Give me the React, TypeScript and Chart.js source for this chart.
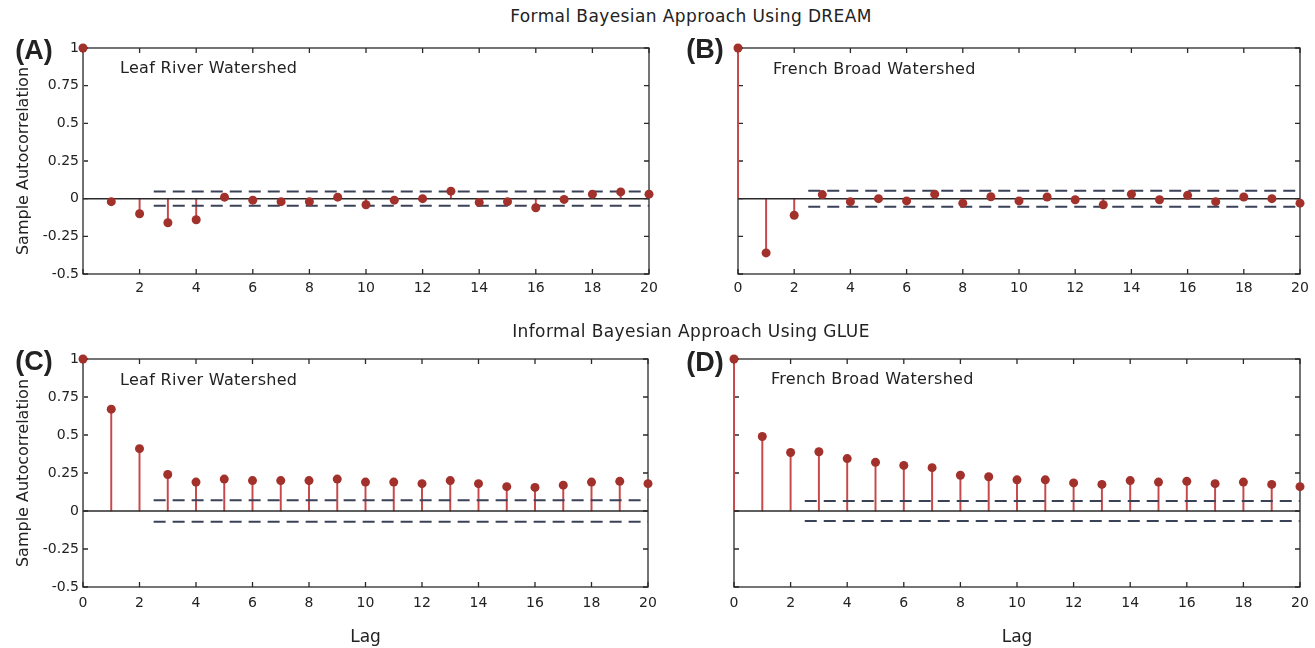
import React, { useEffect, useRef } from "react";
import { Chart, registerables } from "chart.js";

Chart.register(...registerables);

// ---------- data ----------
const lags = [0, 1, 2, 3, 4, 5, 6, 7, 8, 9, 10, 11, 12, 13, 14, 15, 16, 17, 18, 19, 20];
const leafDream = [1, -0.02, -0.1, -0.16, -0.14, 0.01, -0.01, -0.02, -0.02, 0.01, -0.04, -0.01, 0.0, 0.05, -0.025, -0.02, -0.06, -0.005, 0.03, 0.045, 0.03];
const frenchDream = [1, -0.36, -0.11, 0.027, -0.02, 0.0, -0.015, 0.03, -0.03, 0.013, -0.015, 0.011, -0.007, -0.04, 0.03, -0.007, 0.022, -0.02, 0.011, 0.0, -0.03];
const leafGlue = [1, 0.67, 0.41, 0.24, 0.19, 0.21, 0.2, 0.2, 0.2, 0.21, 0.19, 0.19, 0.18, 0.2, 0.18, 0.16, 0.155, 0.17, 0.19, 0.195, 0.18];
const frenchGlue = [1, 0.49, 0.385, 0.39, 0.345, 0.32, 0.3, 0.285, 0.235, 0.225, 0.205, 0.205, 0.185, 0.175, 0.2, 0.19, 0.195, 0.18, 0.19, 0.175, 0.16];
const boundLeafDream = 0.047;
const boundFrenchDream = 0.053;
const boundLeafGlue = 0.07;
const boundFrenchGlue = 0.065;
const boundStartLag = 2.5;
const yTickValues = [-0.5, -0.25, 0, 0.25, 0.5, 0.75, 1];
const rowTitles = ["Formal Bayesian Approach Using DREAM", "Informal Bayesian Approach Using GLUE"];
const panelLetters = ["(A)", "(B)", "(C)", "(D)"];
const watershedNames = ["Leaf River Watershed", "French Broad Watershed", "Leaf River Watershed", "French Broad Watershed"];
const yAxisTitle = "Sample Autocorrelation";
const xAxisTitle = "Lag";

// ---------- styles ----------
const FONT = "'DejaVu Sans', 'Noto Sans', sans-serif";
const MARKER = "#a2302b";
const STEM = "#c8474a";
const FRAME = "#2a2a2a";
const BOUND = "#3a4258";

type PanelCfg = {
  values: number[];
  bound: number;
  canvas: { left: number; top: number; width: number; height: number };
  area: { left: number; top: number; right: number; bottom: number };
  yLabels: boolean;
  hideZeroX: boolean;
  xTitle: boolean;
  xLabelPad: number;
};

const panels: PanelCfg[] = [
  {
    values: leafDream, bound: boundLeafDream,
    canvas: { left: 0, top: 40, width: 662, height: 262 },
    area: { left: 83, top: 48, right: 649, bottom: 274 },
    yLabels: true, hideZeroX: true, xTitle: false, xLabelPad: 6,
  },
  {
    values: frenchDream, bound: boundFrenchDream,
    canvas: { left: 660, top: 40, width: 655, height: 262 },
    area: { left: 738, top: 48, right: 1300, bottom: 274 },
    yLabels: false, hideZeroX: false, xTitle: false, xLabelPad: 6,
  },
  {
    values: leafGlue, bound: boundLeafGlue,
    canvas: { left: 0, top: 340, width: 662, height: 308 },
    area: { left: 83, top: 359, right: 648, bottom: 587 },
    yLabels: true, hideZeroX: false, xTitle: true, xLabelPad: 8,
  },
  {
    values: frenchGlue, bound: boundFrenchGlue,
    canvas: { left: 660, top: 340, width: 655, height: 308 },
    area: { left: 734, top: 359, right: 1300, bottom: 587 },
    yLabels: false, hideZeroX: false, xTitle: true, xLabelPad: 8,
  },
];

const framePlugin = {
  id: "matlabFrame",
  beforeDatasetsDraw(chart: any) {
    const { ctx, chartArea: a, scales } = chart;
    const x = scales.x;
    const y = scales.y;
    ctx.save();
    ctx.strokeStyle = FRAME;
    ctx.lineWidth = 1.3;
    ctx.strokeRect(a.left, a.top, a.right - a.left, a.bottom - a.top);
    const tl = 5;
    ctx.beginPath();
    x.ticks.forEach((t: any) => {
      const px = x.getPixelForValue(t.value);
      ctx.moveTo(px, a.bottom);
      ctx.lineTo(px, a.bottom - tl);
      ctx.moveTo(px, a.top);
      ctx.lineTo(px, a.top + tl);
    });
    y.ticks.forEach((t: any) => {
      const py = y.getPixelForValue(t.value);
      ctx.moveTo(a.left, py);
      ctx.lineTo(a.left + tl, py);
      ctx.moveTo(a.right, py);
      ctx.lineTo(a.right - tl, py);
    });
    ctx.stroke();
    ctx.restore();
  },
};

function Panel({ cfg }: { cfg: PanelCfg }) {
  const ref = useRef<HTMLCanvasElement>(null);
  useEffect(() => {
    if (!ref.current) return;
    const c = cfg.canvas;
    const a = cfg.area;
    const yW = a.left - c.left;
    const xH = c.top + c.height - a.bottom;
    const pts = lags.map((l, i) => ({ x: l, y: cfg.values[i] }));
    const chart = new Chart(ref.current, {
      type: "bar",
      data: {
        datasets: [
          {
            type: "scatter",
            data: pts,
            pointRadius: 4.5,
            pointHoverRadius: 4.5,
            backgroundColor: MARKER,
            borderColor: MARKER,
            borderWidth: 0,
            clip: false,
            order: 0,
          } as any,
          {
            type: "line",
            data: [{ x: boundStartLag, y: cfg.bound }, { x: 20, y: cfg.bound }],
            borderColor: BOUND,
            borderWidth: 2,
            borderDash: [12, 7],
            pointRadius: 0,
            order: 1,
          } as any,
          {
            type: "line",
            data: [{ x: boundStartLag, y: -cfg.bound }, { x: 20, y: -cfg.bound }],
            borderColor: BOUND,
            borderWidth: 2,
            borderDash: [12, 7],
            pointRadius: 0,
            order: 1,
          } as any,
          {
            type: "line",
            data: [{ x: 0, y: 0 }, { x: 20, y: 0 }],
            borderColor: FRAME,
            borderWidth: 1.5,
            pointRadius: 0,
            order: 2,
          } as any,
          {
            type: "bar",
            data: pts,
            backgroundColor: STEM,
            barThickness: 1.3,
            order: 3,
          } as any,
        ],
      },
      options: {
        animation: false,
        responsive: false,
        maintainAspectRatio: false,
        events: [],
        layout: {
          padding: {
            left: 0,
            top: a.top - c.top,
            right: c.left + c.width - a.right,
            bottom: 0,
          },
        },
        plugins: { legend: { display: false }, tooltip: { enabled: false }, title: { display: false } },
        scales: {
          x: {
            type: "linear",
            min: 0,
            max: 20,
            offset: false,
            grid: { display: false, drawTicks: false },
            border: { display: false },
            ticks: {
              stepSize: 2,
              padding: cfg.xLabelPad,
              color: "#222",
              font: { family: FONT, size: 14 },
              maxRotation: 0,
              autoSkip: false,
              callback: (v: any) => (cfg.hideZeroX && v === 0 ? "" : String(v)),
            },
            title: {
              display: cfg.xTitle,
              text: xAxisTitle,
              color: "#222",
              font: { family: FONT, size: 17 },
              padding: { top: 0, bottom: 0 },
            },
            afterFit: (s: any) => {
              s.height = xH;
              s.paddingLeft = 0;
              s.paddingRight = 0;
              s.paddingTop = 0;
              s.paddingBottom = 0;
            },
          } as any,
          y: {
            type: "linear",
            min: -0.5,
            max: 1,
            grid: { display: false, drawTicks: false },
            border: { display: false },
            afterBuildTicks: (s: any) => {
              s.ticks = yTickValues.map((v) => ({ value: v }));
            },
            ticks: {
              display: cfg.yLabels,
              padding: 4,
              color: "#222",
              font: { family: FONT, size: 14 },
              callback: (v: any) => String(v),
            },
            title: {
              display: cfg.yLabels,
              text: yAxisTitle,
              color: "#222",
              font: { family: FONT, size: 16 },
              padding: { top: 14, bottom: 0 },
            },
            afterFit: (s: any) => {
              s.width = yW;
              s.paddingLeft = 0;
              s.paddingRight = 0;
              s.paddingTop = 0;
              s.paddingBottom = 0;
            },
          } as any,
        },
      },
      plugins: [framePlugin],
    } as any);
    return () => chart.destroy();
  }, [cfg]);
  const c = cfg.canvas;
  return (
    <canvas
      ref={ref}
      width={c.width}
      height={c.height}
      style={{ position: "absolute", left: c.left, top: c.top, width: c.width, height: c.height }}
    />
  );
}

const textBase: React.CSSProperties = {
  position: "absolute",
  whiteSpace: "nowrap",
  color: "#222",
  fontFamily: FONT,
  lineHeight: 1,
};

export default function App() {
  const letterPos = [
    { x: 34, y: 50 },
    { x: 705, y: 49 },
    { x: 34, y: 361 },
    { x: 705, y: 362 },
  ];
  const namePos = [
    { x: 120, y: 68 },
    { x: 773, y: 69 },
    { x: 120, y: 380 },
    { x: 771, y: 379 },
  ];
  const titlePos = [
    { x: 691, y: 16 },
    { x: 691, y: 331 },
  ];
  return (
    <div style={{ position: "fixed", left: 0, top: 0, width: 1315, height: 648, background: "#fff", overflow: "hidden" }}>
      {panels.map((p, i) => (
        <Panel key={i} cfg={p} />
      ))}
      {rowTitles.map((t, i) => (
        <div key={"t" + i} style={{ ...textBase, left: titlePos[i].x, top: titlePos[i].y, transform: "translate(-50%, -50%)", fontSize: 17, letterSpacing: 0.4 }}>
          {t}
        </div>
      ))}
      {panelLetters.map((t, i) => (
        <div
          key={"l" + i}
          style={{
            ...textBase,
            left: letterPos[i].x,
            top: letterPos[i].y,
            transform: "translate(-50%, -50%)",
            fontFamily: "'Liberation Sans', Arial, sans-serif",
            fontWeight: "bold",
            fontSize: 27,
          }}
        >
          {t}
        </div>
      ))}
      {watershedNames.map((t, i) => (
        <div key={"n" + i} style={{ ...textBase, left: namePos[i].x, top: namePos[i].y, transform: "translateY(-50%)", fontSize: 16, letterSpacing: 0.3 }}>
          {t}
        </div>
      ))}
    </div>
  );
}
